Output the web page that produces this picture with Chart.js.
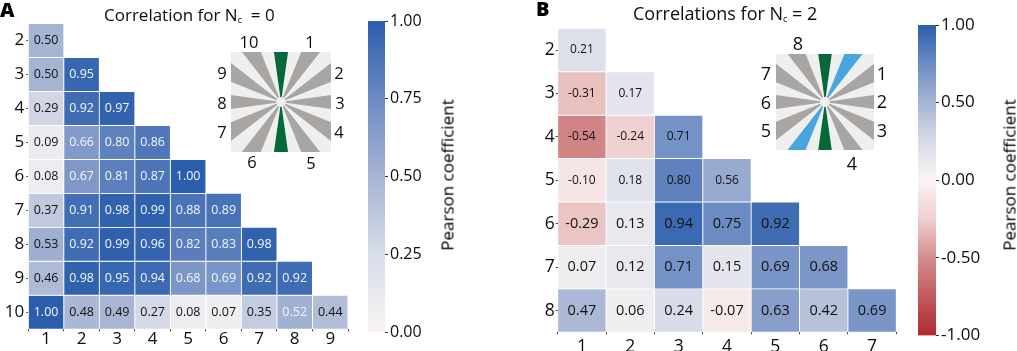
<!DOCTYPE html>
<html>
<head>
<meta charset="utf-8">
<title>Pearson correlation heatmaps</title>
<script src="https://cdn.jsdelivr.net/npm/chart.js@4"></script>
<style>
    html, body { margin: 0; padding: 0; background: #fff; }
    #page { position: relative; width: 1017px; height: 351px; overflow: hidden; font-family: "Open Sans", sans-serif; color: #0d0d0d; }
    #page canvas { position: absolute; }
    .txt { position: absolute; white-space: nowrap; line-height: 1; }
    .panel { font-size: 20px; font-weight: 800; color: #000; }
    .title { font-size: 17px; }
    .title sub { font-size: 9px; line-height: 0; vertical-align: -2px; }
    .cbar-title { font-size: 17px; color: #000; transform: translate(-50%, -50%) rotate(-90deg); }
    .wa { font-size: 16.5px; transform: translate(-50%, -50%); }
    .wb { font-size: 18px; transform: translate(-50%, -50%); }
</style>
</head>
<body>
<div id="page">
    <canvas id="heatA" width="360" height="351" style="left:0;top:0;width:360px;height:351px"></canvas>
    <canvas id="barA" width="80" height="351" style="left:368px;top:0;width:80px;height:351px"></canvas>
    <canvas id="wheelA" width="100" height="100" style="left:231px;top:52px;width:100px;height:100px;background:#efefef"></canvas>

    <canvas id="heatB" width="380" height="351" style="left:525px;top:0;width:380px;height:351px"></canvas>
    <canvas id="barB" width="80" height="351" style="left:918px;top:0;width:80px;height:351px"></canvas>
    <canvas id="wheelB" width="98" height="96" style="left:776px;top:54px;width:98px;height:96px;background:#efefef"></canvas>

    <div class="txt panel" style="left:0;top:0">A</div>
    <div class="txt panel" style="left:536px;top:-1px">B</div>
    <div class="txt title" style="left:104px;top:6px">Correlation for N<sub>c</sub> &nbsp;= 0</div>
    <div class="txt title" style="left:633px;top:4px;font-size:18px">Correlations for N<sub>c</sub> = 2</div>
    <div class="txt cbar-title" style="left:447px;top:175px">Pearson coefficient</div>
    <div class="txt cbar-title" style="left:1009px;top:175px">Pearson coefficient</div>

    <div class="txt wa" style="left:249px;top:42px">10</div>
    <div class="txt wa" style="left:310px;top:42px">1</div>
    <div class="txt wa" style="left:222px;top:73px">9</div>
    <div class="txt wa" style="left:339px;top:73px">2</div>
    <div class="txt wa" style="left:222px;top:103px">8</div>
    <div class="txt wa" style="left:340px;top:103px">3</div>
    <div class="txt wa" style="left:222px;top:132px">7</div>
    <div class="txt wa" style="left:339px;top:132px">4</div>
    <div class="txt wa" style="left:252px;top:162px">6</div>
    <div class="txt wa" style="left:311px;top:163px">5</div>

    <div class="txt wb" style="left:798px;top:43px">8</div>
    <div class="txt wb" style="left:766px;top:73px">7</div>
    <div class="txt wb" style="left:882px;top:73px">1</div>
    <div class="txt wb" style="left:766px;top:102px">6</div>
    <div class="txt wb" style="left:882px;top:101px">2</div>
    <div class="txt wb" style="left:766px;top:130px">5</div>
    <div class="txt wb" style="left:882px;top:130px">3</div>
    <div class="txt wb" style="left:852px;top:163px">4</div>
</div>
<script>
// panel A, N_c = 0
const categoriesA = ["1", "2", "3", "4", "5", "6", "7", "8", "9"];
const rowNamesA = [2, 3, 4, 5, 6, 7, 8, 9, 10];
const valuesA = [
    [0.50],
    [0.50, 0.95],
    [0.29, 0.92, 0.97],
    [0.09, 0.66, 0.80, 0.86],
    [0.08, 0.67, 0.81, 0.87, 1.00],
    [0.37, 0.91, 0.98, 0.99, 0.88, 0.89],
    [0.53, 0.92, 0.99, 0.96, 0.82, 0.83, 0.98],
    [0.46, 0.98, 0.95, 0.94, 0.68, 0.69, 0.92, 0.92],
    [1.00, 0.48, 0.49, 0.27, 0.08, 0.07, 0.35, 0.52, 0.44]
];
const barTicksA = [0, 0.25, 0.5, 0.75, 1];

// panel B, N_c = 2
const categoriesB = ["1", "2", "3", "4", "5", "6", "7"];
const rowNamesB = [2, 3, 4, 5, 6, 7, 8];
const valuesB = [
    [0.21],
    [-0.31, 0.17],
    [-0.54, -0.24, 0.71],
    [-0.10, 0.18, 0.80, 0.56],
    [-0.29, 0.13, 0.94, 0.75, 0.92],
    [0.07, 0.12, 0.71, 0.15, 0.69, 0.68],
    [0.47, 0.06, 0.24, -0.07, 0.63, 0.42, 0.69]
];
const barTicksB = [-1, -0.5, 0, 0.5, 1];

// wheel sectors: 12 spokes, 16 deg wide with 14 deg gaps
const sectorAngles = [16, 14, 16, 14, 16, 14, 16, 14, 16, 14, 16, 14, 16, 14, 16, 14, 16, 14, 16, 14, 16, 14, 16, 14];
const spokesA = ["green", "grey", "grey", "grey", "grey", "grey", "green", "grey", "grey", "grey", "grey", "grey"];
const spokesB = ["green", "blue", "grey", "grey", "grey", "grey", "green", "blue", "grey", "grey", "grey", "grey"];

const spokeColors = { green: "#05683a", grey: "#a9a5a3", blue: "#4aa5dc" };
const colorStops = [
    [-1, [177, 40, 46]],
    [-0.5, [212, 140, 141]],
    [-0.25, [238, 208, 206]],
    [0, [249, 244, 244]],
    [0.25, [216, 220, 233]],
    [0.5, [166, 180, 211]],
    [0.75, [108, 139, 195]],
    [1, [43, 94, 172]]
];

Chart.defaults.font.family = '"Open Sans", sans-serif';
Chart.defaults.animation = false;
Chart.defaults.events = [];

function colorFor(v) {
    for (let i = 1; i < colorStops.length; i++) {
        if (v <= colorStops[i][0]) {
            const a = colorStops[i - 1], b = colorStops[i];
            const t = (v - a[0]) / (b[0] - a[0]);
            const c = a[1].map((x, k) => Math.round(x + (b[1][k] - x) * t));
            return "rgb(" + c.join(",") + ")";
        }
    }
    return "rgb(43,94,172)";
}

function makeHeatmap(id, categories, rowNames, values, o) {
    const cellText = {
        id: "cellText",
        afterDatasetsDraw: function (chart) {
            const ctx = chart.ctx;
            ctx.save();
            ctx.textAlign = "center";
            ctx.textBaseline = "middle";
            values.forEach(function (row, r) {
                row.forEach(function (v, c) {
                    ctx.font = o.fontSize(rowNames[r]) + 'px "Open Sans", sans-serif';
                    ctx.fillStyle = o.textColor(v, rowNames[r], c);
                    ctx.fillText(v.toFixed(2), chart.scales.x.getPixelForValue(c), chart.scales.y.getPixelForValue(rowNames[r]));
                });
            });
            ctx.restore();
        }
    };
    return new Chart(document.getElementById(id), {
        type: "bar",
        data: {
            labels: categories,
            datasets: values.map(function (row, r) {
                return {
                    data: row.map(() => [rowNames[r] - 0.5, rowNames[r] + 0.5]),
                    backgroundColor: row.map(colorFor),
                    borderColor: "#fff",
                    borderWidth: 0.8,
                    borderSkipped: false,
                    grouped: false,
                    barPercentage: 1,
                    categoryPercentage: 1
                };
            })
        },
        options: {
            responsive: false,
            layout: { padding: o.padding },
            plugins: { legend: { display: false }, tooltip: { enabled: false } },
            scales: {
                x: {
                    grid: { drawOnChartArea: false, tickLength: 2, tickColor: "#444" },
                    border: { display: false },
                    ticks: { color: "#0d0d0d", font: { size: o.tickSize }, padding: o.xPad, maxRotation: 0, autoSkip: false },
                    afterFit: function (s) { s.height = o.xHeight; }
                },
                y: {
                    reverse: true,
                    min: rowNames[0] - 0.5,
                    max: rowNames[rowNames.length - 1] + 0.5,
                    grid: { drawOnChartArea: false, tickLength: 2, tickColor: "#444" },
                    border: { display: false },
                    afterBuildTicks: function (s) { s.ticks = rowNames.map(v => ({ value: v })); },
                    ticks: { color: "#0d0d0d", font: { size: o.tickSize }, padding: o.yPad, autoSkip: false, callback: v => String(v) },
                    afterFit: function (s) { s.width = o.yWidth; }
                }
            }
        },
        plugins: [cellText]
    });
}

function makeColorBar(id, min, max, ticks, o) {
    return new Chart(document.getElementById(id), {
        type: "bar",
        data: {
            labels: [""],
            datasets: [{
                data: [[min, max]],
                barPercentage: 1,
                categoryPercentage: 1,
                backgroundColor: function (c) {
                    const y = c.chart.scales.y;
                    if (!y || !c.chart.chartArea) return "#fff";
                    const g = c.chart.ctx.createLinearGradient(0, y.getPixelForValue(max), 0, y.getPixelForValue(min));
                    colorStops.forEach(function (s) {
                        if (s[0] >= min && s[0] <= max) g.addColorStop((max - s[0]) / (max - min), colorFor(s[0]));
                    });
                    return g;
                }
            }]
        },
        options: {
            responsive: false,
            layout: { padding: o.padding },
            plugins: { legend: { display: false }, tooltip: { enabled: false } },
            scales: {
                x: { display: false },
                y: {
                    position: "right",
                    min: min,
                    max: max,
                    grid: { drawOnChartArea: false, tickLength: 3, tickColor: "#333" },
                    border: { display: false },
                    afterBuildTicks: function (s) { s.ticks = ticks.map(v => ({ value: v })); },
                    ticks: { color: "#0d0d0d", font: { size: o.tickSize }, padding: 2, callback: v => v.toFixed(2) },
                    afterFit: function (s) { s.width = o.axisWidth; }
                }
            }
        }
    });
}

function makeWheel(id, spokes, radius) {
    const colors = [];
    spokes.forEach(function (s) {
        colors.push(spokeColors[s]);
        colors.push("rgba(0,0,0,0)");
    });
    return new Chart(document.getElementById(id), {
        type: "doughnut",
        data: { datasets: [{ data: sectorAngles, backgroundColor: colors, borderWidth: 0 }] },
        options: {
            responsive: false,
            rotation: -8,
            radius: radius,
            cutout: 3,
            plugins: { legend: { display: false }, tooltip: { enabled: false } }
        }
    });
}

makeHeatmap("heatA", categoriesA, rowNamesA, valuesA, {
    padding: { top: 23.5, right: 12, left: 0, bottom: 0 },
    yWidth: 28.3,
    xHeight: 21.7,
    tickSize: 17,
    xPad: -2,
    yPad: 2,
    fontSize: () => 12.5,
    textColor: function (v, row, c) {
        if (row === 10 && c === 7) return "#f4f6fb";
        return v >= 0.6 ? "#f4f6fb" : "#111";
    }
});
makeHeatmap("heatB", categoriesB, rowNamesB, valuesB, {
    padding: { top: 28.3, right: 8.7, left: 0, bottom: 0 },
    yWidth: 32.7,
    xHeight: 18.7,
    tickSize: 17.5,
    xPad: 2,
    yPad: 1,
    fontSize: row => (row >= 6 ? 14.5 : 12),
    textColor: () => "#111"
});

makeColorBar("barA", 0, 1, barTicksA, { padding: { top: 21, bottom: 19 }, axisWidth: 63, tickSize: 16 });
makeColorBar("barB", -1, 1, barTicksB, { padding: { top: 25, bottom: 15.5 }, axisWidth: 62, tickSize: 17 });

makeWheel("wheelA", spokesA, 80);
makeWheel("wheelB", spokesB, 80);
</script>
</body>
</html>
